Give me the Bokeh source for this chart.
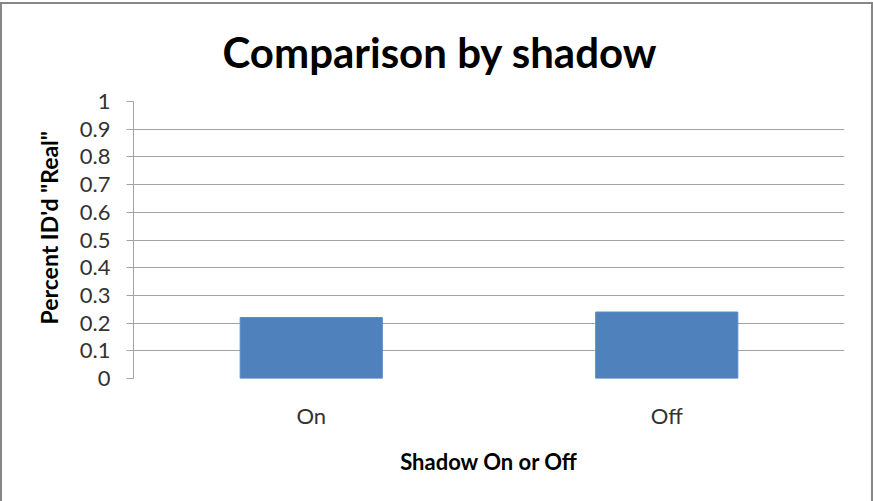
from bokeh.plotting import figure
from bokeh.models import Range1d, FactorRange, FixedTicker, Title
from bokeh.embed import file_html
from bokeh.resources import INLINE

# Share of images identified as "Real", split by shadow setting
categories = ["On", "Off"]
percent_real = [0.22, 0.24]

y_ticks = [0, 0.1, 0.2, 0.3, 0.4, 0.5, 0.6, 0.7, 0.8, 0.9, 1.0]
y_tick_labels = ["0", "0.1", "0.2", "0.3", "0.4", "0.5", "0.6", "0.7", "0.8", "0.9", "1"]

FONT = "Lato"
GRID = "#a3a3a3"
BORDER = "#878787"

p = figure(
    width=873, height=501,
    x_range=FactorRange(*categories, range_padding=0),
    y_range=Range1d(0, 1),
    output_backend="svg", toolbar_location=None, tools="",
    min_border_left=133, min_border_right=29,
    min_border_top=100, min_border_bottom=123,
)
p.outline_line_color = None
p.background_fill_color = "white"
p.border_fill_color = None
# Chart border drawn on the host element behind the transparent canvas margins
p.styles = {
    "background-color": "white",
    "box-shadow": ("inset 0 2px 0 0 white, inset 0 4px 0 0 %s, "
                   "inset 2px 0 0 0 %s, inset -2px 0 0 0 %s") % (BORDER, BORDER, BORDER),
}

p.vbar(x=categories, top=percent_real, width=0.4,
       fill_color="#4f81bd", line_color="#5b8cc7", line_width=1)

# Title, shifted so it sits centred on the whole chart rather than the frame
p.title.text = "Comparison by shadow"
p.title.text_font = FONT
p.title.text_font_size = "42px"
p.title.text_font_style = "bold"
p.title.text_color = "#000000"
p.title.align = "left"
p.title.offset = 89
p.title.standoff = 49

# Y axis
p.yaxis.ticker = FixedTicker(ticks=y_ticks)
p.yaxis.major_label_overrides = {t: s for t, s in zip(y_ticks, y_tick_labels)}
p.yaxis.major_tick_out = 7
p.yaxis.major_tick_in = 0
p.yaxis.minor_tick_line_color = None
p.yaxis.major_tick_line_color = GRID
p.yaxis.axis_line_color = GRID
p.yaxis.major_label_text_font = FONT
p.yaxis.major_label_text_font_size = "22px"
p.yaxis.major_label_text_color = "#333333"
p.yaxis.major_label_standoff = 16

# Y axis title as a side title so it can be shifted along the axis
p.add_layout(Title(text="Percent ID'd \"Real\"", align="left", offset=54,
                   standoff=27, text_font=FONT, text_font_size="23px",
                   text_font_style="bold", text_color="#000000"), "left")

# X axis
p.xaxis.major_tick_line_color = None
p.xaxis.minor_tick_line_color = None
p.xaxis.axis_line_color = None
p.xaxis.major_label_text_font = FONT
p.xaxis.major_label_text_font_size = "22px"
p.xaxis.major_label_text_color = "#333333"
p.xaxis.major_label_standoff = 17
p.xaxis.axis_label = "Shadow On or Off"
p.xaxis.axis_label_text_font = FONT
p.xaxis.axis_label_text_font_size = "22px"
p.xaxis.axis_label_text_font_style = "bold"
p.xaxis.axis_label_text_color = "#000000"
p.xaxis.axis_label_standoff = 16

p.xgrid.grid_line_color = None
p.ygrid.grid_line_color = GRID
p.ygrid.grid_line_width = 1

open("out.html", "w").write(file_html(p, INLINE))
